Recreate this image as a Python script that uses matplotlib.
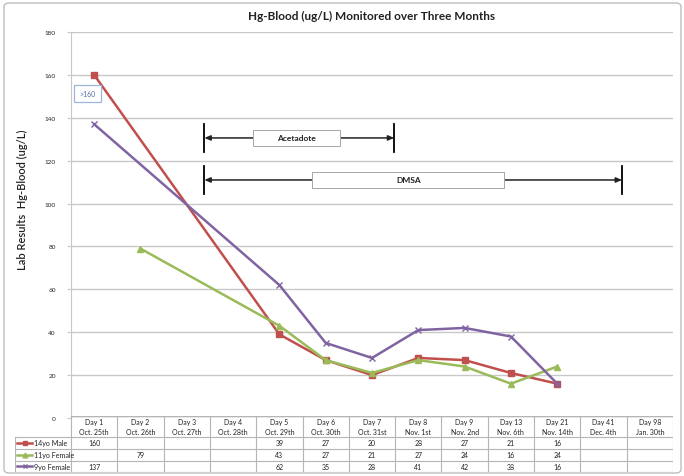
"""
 Hg-Blood (ug/L) line chart with an Excel-style data table below it.
"""
import matplotlib
matplotlib.use("Agg")
import matplotlib.pyplot as plt
from matplotlib.patches import FancyBboxPatch, Rectangle

plt.rcParams['font.family'] = ['Lato', 'DejaVu Sans']

# data
days = ['Day 1', 'Day 2', 'Day 3', 'Day 4', 'Day 5', 'Day 6', 'Day 7',
        'Day 8', 'Day 9', 'Day 13', 'Day 21', 'Day 41', 'Day 98']
dates = ['Oct. 25th', 'Oct. 26th', 'Oct. 27th', 'Oct. 28th', 'Oct. 29th',
         'Oct. 30th', 'Oct. 31st', 'Nov. 1st', 'Nov. 2nd', 'Nov. 6th',
         'Nov. 14th', 'Dec. 4th', 'Jan. 30th']
male_14 = [160, None, None, None, 39, 27, 20, 28, 27, 21, 16, None, None]
female_11 = [None, 79, None, None, 43, 27, 21, 27, 24, 16, 24, None, None]
female_9 = [137, None, None, None, 62, 35, 28, 41, 42, 38, 16, None, None]
series_names = ['14yo Male', '11yo Female', '9yo Female']
y_ticks = list(range(0, 181, 20))

# treatment periods (category position, value)
acetadote_span = (2.38, 6.48)
acetadote_y = 130.6
dmsa_span = (2.38, 11.40)
dmsa_y = 111.0

RED, GREEN, PURPLE = '#C0504D', '#9BBB59', '#8064A2'
styles = [dict(color=RED, marker='s', ms=4.8),
          dict(color=GREEN, marker='^', ms=4.8),
          dict(color=PURPLE, marker='x', ms=4.8, mew=1.0)]
GRID = '#C8C8C8'

W, H = 684, 477
fig = plt.figure(figsize=(W / 100, H / 100), dpi=100)


def fx(px):
    return px / W


def fy(py):
    return 1 - py / H


# outer chart border
fig.patches.append(FancyBboxPatch((fx(4), fy(474)), fx(677), 470 / H,
                                  boxstyle='round,pad=0,rounding_size=0.008',
                                  transform=fig.transFigure, fill=False,
                                  ec='#BDBDBD', lw=1.0))

ax = fig.add_axes([fx(71), fy(419), fx(673) - fx(71), fy(33) - fy(419)])
ax.set_xlim(-0.5, len(days) - 0.5)
ax.set_ylim(0, 180)
ax.set_yticks(y_ticks)
ax.set_yticklabels([str(t) for t in y_ticks], fontsize=4.6, color='#222222')
ax.tick_params(axis='y', length=3, color=GRID, pad=8)
ax.set_xticks([])
for s in ['top', 'right', 'bottom']:
    ax.spines[s].set_visible(False)
ax.spines['left'].set_color(GRID)
ax.grid(axis='y', color=GRID, lw=1.0)
ax.set_axisbelow(True)

for values, st in zip([male_14, female_11, female_9], styles):
    xs = [i for i, v in enumerate(values) if v is not None]
    ys = [v for v in values if v is not None]
    ax.plot(xs, ys, lw=1.8, **st, zorder=3)

ax.set_title('Hg-Blood (ug/L) Monitored over Three Months', fontsize=8.5,
             fontweight='bold', color='#222222', pad=9)
fig.text(fx(22), fy(200), 'Lab Results  Hg-Blood (ug/L)', rotation=90,
         ha='center', va='center', fontsize=8, fontweight='semibold',
         color='#222222')

# ">160" callout
ax.text(-0.14, 151.3, '>160', fontsize=5, color='#4F6FA0', ha='center',
        va='center', bbox=dict(boxstyle='square,pad=0.75', fc='white',
                               ec='#9DB6DA', lw=0.9))


def period(span, y, label, box):
    x0, x1 = span
    bx0, bx1 = box
    for x in (x0, x1):
        ax.plot([x, x], [y - 6.7, y + 6.7], color='black', lw=1.3, zorder=4)
    for tip, tail in ((x0, bx0), (x1, bx1)):
        ax.annotate('', xy=(tip, y), xytext=(tail, y),
                    arrowprops=dict(arrowstyle='-|>,head_length=0.35,head_width=0.15',
                                    color='#222222', lw=1.1,
                                    shrinkA=0, shrinkB=0))
    ax.add_patch(Rectangle((bx0, y - 3.8), bx1 - bx0, 7.6, fc='white',
                           ec='#A6A6A6', lw=0.7, zorder=5))
    ax.text((bx0 + bx1) / 2, y, label, ha='center', va='center', fontsize=6,
            fontweight='bold', color='#222222', zorder=6)


period(acetadote_span, acetadote_y, 'Acetadote', (3.43, 5.31))
period(dmsa_span, dmsa_y, 'DMSA', (4.71, 8.86))

# data table
tax = fig.add_axes([fx(15), fy(473), fx(673) - fx(15), fy(417) - fy(473)])
left = -0.5 - (71 - 15) / ((673 - 71) / len(days))
tax.set_xlim(left, len(days) - 0.5)
tax.set_ylim(56, 0)
tax.axis('off')
rows = [0, 21, 33, 44.5, 56]
lc = '#B5B5B5'
tax.plot([-0.5, len(days) - 0.5], [0, 0], color=lc, lw=1.0)
for r in rows[1:]:
    tax.plot([left, len(days) - 0.5], [r, r], color=lc, lw=0.8)
for k in range(len(days) + 1):
    tax.plot([k - 0.5, k - 0.5], [0, 56], color=lc, lw=0.8)
tax.plot([left, left], [21, 56], color=lc, lw=0.8)

for i, (d, dt) in enumerate(zip(days, dates)):
    tax.text(i, 10.5, d + '\n' + dt, ha='center', va='center', fontsize=5,
             color='#222222', linespacing=1.35)

for r, (name, values, st) in enumerate(zip(series_names,
                                           [male_14, female_11, female_9],
                                           styles)):
    yc = (rows[r + 1] + rows[r + 2]) / 2
    for i, v in enumerate(values):
        if v is not None:
            tax.text(i, yc, str(v), ha='center', va='center', fontsize=5,
                     color='#222222')
    kx = left + 0.05
    tax.plot([kx, kx + 0.32], [yc, yc], color=st['color'], lw=1.8)
    tax.plot([kx + 0.16], [yc], color=st['color'], marker=st['marker'],
             ms=3.5, mew=st.get('mew', 1.0))
    tax.text(kx + 0.35, yc, name, ha='left', va='center', fontsize=5.1,
             color='#222222')

fig.savefig('out.png', dpi=100)
